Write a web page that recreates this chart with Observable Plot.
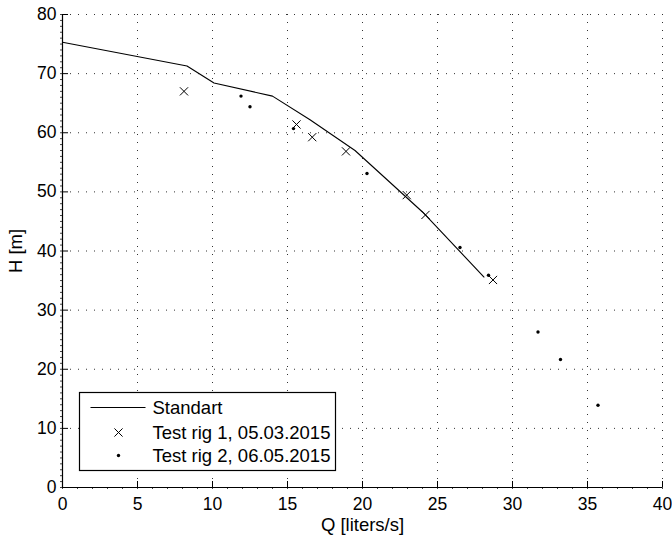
<!DOCTYPE html>
<html>
<head>
<meta charset="utf-8">
<script src="https://cdn.jsdelivr.net/npm/d3@7"></script>
<script src="https://cdn.jsdelivr.net/npm/@observablehq/plot@0.6"></script>
<style>
  body { margin: 0; background: #fff; }
  svg { display: block; }
</style>
</head>
<body>
<div id="chart"></div>
<script>
// Pump head curve: H [m] against flow Q [liters/s]
const stdQ = [0, 8.3, 10.1, 14.0, 16.5, 19.5, 24.0, 28.1];
const stdH = [75.3, 71.3, 68.4, 66.2, 62.2, 57.0, 46.6, 35.6];

const rig1Q = [8.1, 15.6, 16.65, 18.9, 22.95, 24.2, 28.7];
const rig1H = [67.0, 61.4, 59.25, 56.85, 49.45, 46.1, 35.1];

const rig2Q = [11.9, 12.5, 15.4, 20.3, 26.5, 28.4, 31.7, 33.2, 35.7];
const rig2H = [66.2, 64.4, 60.7, 53.1, 40.6, 35.9, 26.3, 21.65, 13.9];

const xTicks = [0, 5, 10, 15, 20, 25, 30, 35, 40];
const yTicks = [0, 10, 20, 30, 40, 50, 60, 70, 80];
const xMinor = d3.range(0, 41, 1);
const yMinor = d3.range(0, 81, 1);

const seriesNames = ["Standart", "Test rig 1, 05.03.2015", "Test rig 2, 06.05.2015"];

const standard = stdQ.map((q, i) => ({Q: q, H: stdH[i]}));
const rig1 = rig1Q.map((q, i) => ({Q: q, H: rig1H[i]}));
const rig2 = rig2Q.map((q, i) => ({Q: q, H: rig2H[i]}));

const W = 672, H = 538;
const mL = 62, mR = 10, mT = 14, mB = 51;
const innerW = W - mL - mR, innerH = H - mT - mB;
const font = "'Liberation Sans', Arial, Helvetica, sans-serif";

const chart = Plot.plot({
  width: W,
  height: H,
  marginLeft: mL,
  marginRight: mR,
  marginTop: mT,
  marginBottom: mB,
  style: {fontFamily: font, fontSize: "17px", color: "#000", background: "#fff"},
  x: {domain: [0, 40], labelArrow: "none"},
  y: {domain: [0, 80], labelArrow: "none"},
  marks: [
    // dotted grid (the 40 / 80 lines close the frame)
    Plot.gridX({ticks: xTicks, stroke: "#000", strokeOpacity: 0.8, strokeWidth: 1, strokeDasharray: "1,7"}),
    Plot.gridY({ticks: yTicks, stroke: "#000", strokeOpacity: 0.8, strokeWidth: 1, strokeDasharray: "1,7"}),
    // small outer minor ticks
    Plot.axisX({ticks: xMinor, tickSize: 2, tickFormat: () => "", label: null, stroke: "#444"}),
    Plot.axisY({ticks: yMinor, tickSize: 2, tickFormat: () => "", label: null, stroke: "#444"}),
    // inward major ticks
    Plot.tickX(xTicks, {x: d => d, insetTop: innerH - 6, stroke: "#000"}),
    Plot.tickY(yTicks, {y: d => d, insetRight: innerW - 6, stroke: "#000"}),
    // tick labels and titles
    Plot.axisX({ticks: xTicks, tickSize: 0, tickPadding: 10, fontSize: 17.5,
      label: "Q [liters/s]", labelAnchor: "center", labelOffset: 43, labelArrow: "none"}),
    Plot.axisY({ticks: yTicks, tickSize: 0, tickPadding: 6, fontSize: 17.5,
      label: "H [m]", labelAnchor: "center", labelOffset: 54, labelArrow: "none"}),
    // axis lines
    Plot.ruleX([0], {stroke: "#000", strokeWidth: 1.2}),
    Plot.ruleY([0], {stroke: "#000", strokeWidth: 1.2}),
    // data
    Plot.line(standard, {x: "Q", y: "H", stroke: "#000", strokeWidth: 1.1}),
    Plot.dot(rig1, {x: "Q", y: "H", symbol: "times", r: 3.8, stroke: "#000", strokeWidth: 1}),
    Plot.dot(rig2, {x: "Q", y: "H", r: 1.7, fill: "#000", stroke: "none"})
  ]
});

// axis titles a touch larger than the tick labels
d3.select(chart).selectAll("[aria-label='x-axis label'] text, [aria-label='y-axis label'] text")
  .attr("font-size", 18.5);

document.getElementById("chart").appendChild(chart);

// legend box inside the axes, lower left
const svg = d3.select(chart);
const lg = svg.append("g").attr("transform", "translate(79.5,392.5)");
lg.append("rect")
  .attr("width", 256).attr("height", 78)
  .attr("fill", "#fff").attr("stroke", "#000").attr("stroke-width", 1.2);
const rowY = [15, 40, 63];
lg.append("line")
  .attr("x1", 11).attr("x2", 66).attr("y1", rowY[0]).attr("y2", rowY[0])
  .attr("stroke", "#000").attr("stroke-width", 1.1);
lg.append("path")
  .attr("transform", `translate(39,${rowY[1]})`)
  .attr("d", d3.symbol(d3.symbolTimes, Math.PI * 3.8 * 3.8)())
  .attr("fill", "none").attr("stroke", "#000").attr("stroke-width", 1);
lg.append("circle")
  .attr("cx", 39).attr("cy", rowY[2]).attr("r", 1.7).attr("fill", "#000");
lg.selectAll("text.lbl")
  .data(seriesNames)
  .join("text")
  .attr("class", "lbl")
  .attr("x", 73)
  .attr("y", (d, i) => rowY[i])
  .attr("dy", "0.35em")
  .attr("text-anchor", "start")
  .attr("font-family", font)
  .attr("font-size", 18.5)
  .attr("fill", "#000")
  .text(d => d);
</script>
</body>
</html>
